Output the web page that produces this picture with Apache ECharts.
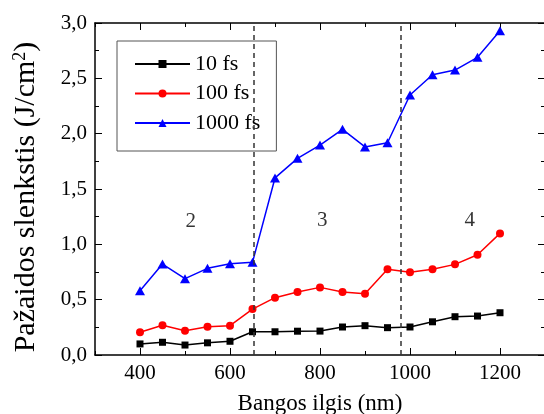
<!DOCTYPE html>
<html>
<head>
<meta charset="utf-8">
<script src="https://cdn.jsdelivr.net/npm/echarts@6/dist/echarts.min.js"></script>
<style>
  html, body { margin: 0; padding: 0; background: #fff; }
  #chart { width: 544px; height: 414px; }
</style>
</head>
<body>
<div id="chart"></div>
<script>
// bangos ilgiai (nm)
const wavelengths = [400, 450, 500, 550, 600, 650, 700, 750, 800, 850, 900, 950, 1000, 1050, 1100, 1150, 1200];
const fs10 = [0.10, 0.115, 0.09, 0.11, 0.124, 0.21, 0.21, 0.215, 0.216, 0.253, 0.265, 0.247, 0.253, 0.30, 0.346, 0.352, 0.382];
const fs100 = [0.205, 0.268, 0.22, 0.256, 0.265, 0.415, 0.518, 0.569, 0.611, 0.569, 0.554, 0.774, 0.747, 0.774, 0.819, 0.906, 1.099];
const fs1000 = [0.581, 0.822, 0.69, 0.783, 0.825, 0.837, 1.60, 1.777, 1.897, 2.039, 1.88, 1.918, 2.349, 2.532, 2.575, 2.69, 2.93];
const seriesNames = ['10 fs', '100 fs', '1000 fs'];
const xMajorTicks = [400, 600, 800, 1000, 1200];
// sriciu ribos ir numeriai
const boundaries = [653, 980];
const regionNames = ['2', '3', '4'];
const regionX = [513, 805, 1133];
const regionY = [1.21, 1.22, 1.22];

const font = '"Liberation Serif", "Times New Roman", serif';
const myChart = echarts.init(document.getElementById('chart'));

const pairs = (ys) => wavelengths.map((x, i) => [x, ys[i]]);
const xBase = {
  type: 'value', min: 300, max: 1300, interval: 100,
  splitLine: { show: false }
};

const option = {
  animation: false,
  grid: { left: 95, top: 23, width: 450, height: 332, outerBoundsMode: 'none', containLabel: false },
  legend: {
    data: seriesNames,
    orient: 'vertical',
    left: 117, top: 41,
    padding: [12, 16, 17, 17],
    itemWidth: 55, itemHeight: 10, itemGap: 7.5,
    borderColor: '#555', borderWidth: 1,
    textStyle: { fontFamily: font, fontSize: 22, color: '#000', lineHeight: 22 }
  },
  xAxis: [
    Object.assign({}, xBase, {
      position: 'bottom',
      name: 'Bangos ilgis (nm)', nameLocation: 'middle', nameGap: 37,
      nameTextStyle: { fontFamily: font, fontSize: 23, color: '#000' },
      axisLine: { lineStyle: { color: '#000', width: 1.5 } },
      axisTick: { inside: true, length: 4, lineStyle: { color: '#000' } },
      axisLabel: {
        fontFamily: font, fontSize: 21, color: '#000', margin: 8,
        formatter: v => (v % 200 === 0 && v >= 400 && v <= 1200) ? String(v) : ''
      }
    }),
    Object.assign({}, xBase, {
      position: 'bottom',
      axisLine: { show: false },
      axisTick: { inside: true, length: 7, customValues: xMajorTicks, lineStyle: { color: '#000' } },
      axisLabel: { show: false }
    }),
    Object.assign({}, xBase, {
      position: 'top',
      axisLine: { lineStyle: { color: '#000', width: 1.5 } },
      axisTick: { inside: true, length: 4, lineStyle: { color: '#000' } },
      axisLabel: { show: false }
    }),
    Object.assign({}, xBase, {
      position: 'top',
      axisLine: { show: false },
      axisTick: { inside: true, length: 7, customValues: xMajorTicks, lineStyle: { color: '#000' } },
      axisLabel: { show: false }
    })
  ],
  yAxis: [
    {
      type: 'value', min: 0, max: 3, interval: 0.5, position: 'left',
      name: '{a|Pažaidos slenkstis (J/cm}{s|2}{a|)}',
      nameLocation: 'middle', nameGap: 53, nameRotate: 90,
      nameTextStyle: {
        padding: [0, 16, 0, 0],
        rich: {
          a: { fontFamily: font, fontSize: 30, color: '#000' },
          s: { fontFamily: font, fontSize: 18, color: '#000', verticalAlign: 'top', padding: [0, 0, 13, 0] }
        }
      },
      splitLine: { show: false },
      axisLine: { lineStyle: { color: '#000', width: 1.5 } },
      axisTick: { inside: true, length: 7, lineStyle: { color: '#000' } },
      minorTick: { show: true, splitNumber: 2, length: 4, lineStyle: { color: '#000' } },
      axisLabel: {
        fontFamily: font, fontSize: 21, color: '#000', margin: 8,
        formatter: v => v.toFixed(1).replace('.', ',')
      }
    },
    {
      type: 'value', min: 0, max: 3, interval: 0.5, position: 'right',
      splitLine: { show: false },
      axisLine: { lineStyle: { color: '#000', width: 1.5 } },
      axisTick: { inside: true, length: 7, lineStyle: { color: '#000' } },
      minorTick: { show: true, splitNumber: 2, length: 4, lineStyle: { color: '#000' } },
      axisLabel: { show: false }
    }
  ],
  series: [
    {
      name: seriesNames[0], type: 'line', data: pairs(fs10),
      symbol: 'rect', symbolSize: 7,
      itemStyle: { color: '#000' }, lineStyle: { color: '#000', width: 1.5 },
      markLine: {
        silent: true, symbol: 'none', label: { show: false },
        lineStyle: { color: '#333', type: [5, 4], width: 1.5 },
        data: boundaries.map(b => ({ xAxis: b }))
      }
    },
    {
      name: seriesNames[1], type: 'line', data: pairs(fs100),
      symbol: 'circle', symbolSize: 8,
      itemStyle: { color: '#ff0000' }, lineStyle: { color: '#ff0000', width: 1.5 }
    },
    {
      name: seriesNames[2], type: 'line', data: pairs(fs1000),
      symbol: 'triangle', symbolSize: [10, 9],
      itemStyle: { color: '#0000ff' }, lineStyle: { color: '#0000ff', width: 1.5 }
    },
    {
      name: 'regions', type: 'scatter', symbolSize: 0, silent: true,
      data: regionNames.map((n, i) => ({ value: [regionX[i], regionY[i]], name: n })),
      label: {
        show: true, position: 'inside', formatter: p => p.name,
        fontFamily: font, fontSize: 21, color: '#000'
      }
    }
  ]
};

myChart.setOption(option);
</script>
</body>
</html>
